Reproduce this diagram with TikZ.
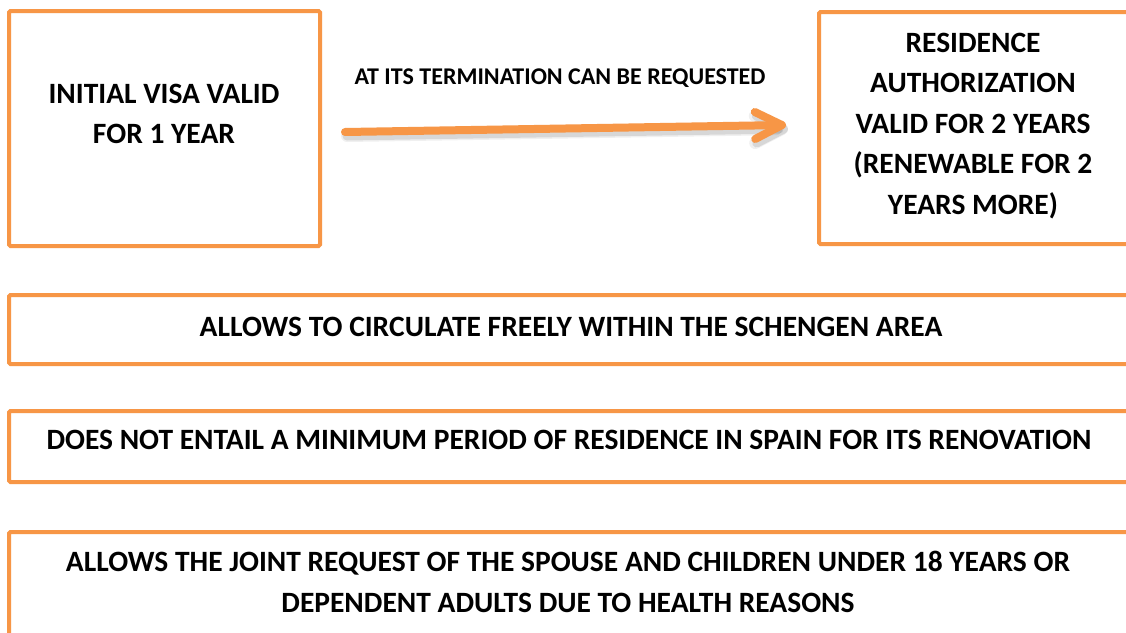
\documentclass[tikz,border=0pt]{standalone}
\usepackage{fontspec}
\setmainfont{Carlito}
\usetikzlibrary{arrows.meta}
\definecolor{orng}{HTML}{F79646}
\begin{document}
\begin{tikzpicture}[x=1pt,y=-1pt,
  box/.style={draw=orng, line width=4pt, rounded corners=1.5pt, fill=white},
  txt/.style={font=\bfseries\fontsize{29.5}{40.5}\selectfont, align=center, text=black, inner sep=0pt},
  lbl/.style={font=\bfseries\fontsize{24}{28}\selectfont, text=black, inner sep=0pt},
  arr/.style={draw=orng, line width=8pt, line cap=round,
     -{Straight Barb[length=27pt,width=27pt,round]}},
  shd/.style={draw=black, line cap=round,
     -{Straight Barb[length=27pt,width=27pt,round]}}]
\useasboundingbox (0,0) rectangle (1126,632);
\begin{scope}
\clip (0,0) rectangle (1126,632);
\fill[white] (0,0) rectangle (1126,632);
% boxes
\draw[box] (9,11) rectangle (320,246);
\draw[box] (819,12) rectangle (1140,244);
\draw[box] (9,295) rectangle (1140,364);
\draw[box] (9,411) rectangle (1140,482);
\draw[box] (9,532) rectangle (1140,660);
% texts
\node[txt] (t1) at (164,114) {INITIAL VISA VALID\\FOR 1 YEAR};
\node[txt] (t2) at (973,126) {RESIDENCE\\AUTHORIZATION\\VALID FOR 2 YEARS\\(RENEWABLE FOR 2\\YEARS MORE)};
\node[txt] (t3) at (571,327) {ALLOWS TO CIRCULATE FREELY WITHIN THE SCHENGEN AREA};
\node[txt] (t4) at (569,440) {DOES NOT ENTAIL A MINIMUM PERIOD OF RESIDENCE IN SPAIN FOR ITS RENOVATION};
\node[txt] (t5) at (568,582) {ALLOWS THE JOINT REQUEST OF THE SPOUSE AND CHILDREN UNDER 18 YEARS OR\\DEPENDENT ADULTS DUE TO HEALTH REASONS};
\node[lbl] (lab) at (560,78) {AT ITS TERMINATION CAN BE REQUESTED};
% arrow
\coordinate (as) at (345,132);
\coordinate (ae) at (786,125);
\coordinate (ss) at (347,136);
\coordinate (se) at (788,129);
\draw[shd, line width=12pt, opacity=0.06] (ss) -- (se);
\draw[shd, line width=9pt, opacity=0.10] (ss) -- (se);
\draw[arr] (as) -- (ae);
\end{scope}
\end{tikzpicture}
\end{document}
